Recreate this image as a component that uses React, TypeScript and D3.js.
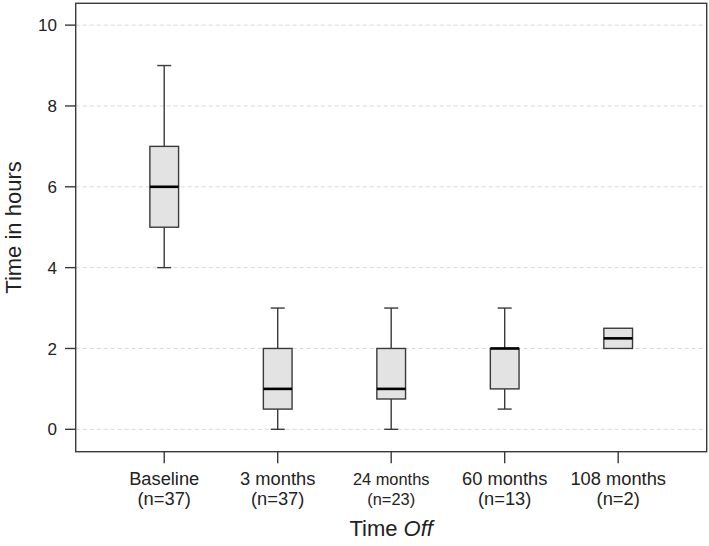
import React from 'react';
import * as d3 from "d3";

// Chart data
const groups = ["Baseline", "3 months", "24 months", "60 months", "108 months"];
const counts = ["(n=37)", "(n=37)", "(n=23)", "(n=13)", "(n=2)"];
const whiskerLow = [4, 0, 0, 0.5, 2];
const quartile1 = [5, 0.5, 0.75, 1, 2];
const medians = [6, 1, 1, 2, 2.25];
const quartile3 = [7, 2, 2, 2, 2.5];
const whiskerHigh = [9, 3, 3, 3, 2.5];
const yTicks = [0, 2, 4, 6, 8, 10];

const W = 709, H = 546;
const frame = { left: 75.7, right: 706.7, top: 3.3, bottom: 451.7 };
const font = "'Liberation Sans', Arial, sans-serif";

function App() {
    const x = d3.scalePoint<string>()
        .domain(groups)
        .range([frame.left, frame.right])
        .padding(0.78);
    const y = d3.scaleLinear()
        .domain([-0.554, 10.54])
        .range([frame.bottom, frame.top]);

    const boxW = 28.7;
    const capW = 14;
    const ink = "#3a3a3a";

    return (
        <svg width={W} height={H} style={{ position: "absolute", left: 0, top: 0, background: "#fff" }}>
            {/* grid lines */}
            {yTicks.map(t => (
                <line key={"g" + t} x1={frame.left} x2={frame.right} y1={y(t)} y2={y(t)}
                    stroke="#d9d9d9" strokeWidth={1} strokeDasharray="4,3" />
            ))}

            {/* boxes */}
            {groups.map((g, i) => {
                const cx = x(g)!;
                return (
                    <g key={g}>
                        {whiskerHigh[i] > quartile3[i] && (
                            <>
                                <line x1={cx} x2={cx} y1={y(quartile3[i])} y2={y(whiskerHigh[i])} stroke={ink} strokeWidth={1.4} />
                                <line x1={cx - capW / 2} x2={cx + capW / 2} y1={y(whiskerHigh[i])} y2={y(whiskerHigh[i])} stroke={ink} strokeWidth={1.4} />
                            </>
                        )}
                        {whiskerLow[i] < quartile1[i] && (
                            <>
                                <line x1={cx} x2={cx} y1={y(quartile1[i])} y2={y(whiskerLow[i])} stroke={ink} strokeWidth={1.4} />
                                <line x1={cx - capW / 2} x2={cx + capW / 2} y1={y(whiskerLow[i])} y2={y(whiskerLow[i])} stroke={ink} strokeWidth={1.4} />
                            </>
                        )}
                        <rect x={cx - boxW / 2} y={y(quartile3[i])} width={boxW}
                            height={y(quartile1[i]) - y(quartile3[i])}
                            fill="#e3e3e3" stroke={ink} strokeWidth={1.4} />
                        <line x1={cx - boxW / 2} x2={cx + boxW / 2} y1={y(medians[i])} y2={y(medians[i])}
                            stroke="#000" strokeWidth={2.6} />
                    </g>
                );
            })}

            {/* frame */}
            <rect x={frame.left} y={frame.top} width={frame.right - frame.left} height={frame.bottom - frame.top}
                fill="none" stroke={ink} strokeWidth={1.4} />

            {/* y axis */}
            {yTicks.map(t => (
                <g key={"y" + t}>
                    <line x1={65} x2={frame.left} y1={y(t)} y2={y(t)} stroke={ink} strokeWidth={1.4} />
                    <text x={57} y={y(t)} dy="0.36em" textAnchor="end" fontFamily={font} fontSize={17} fill="#222">{t}</text>
                </g>
            ))}
            <text transform={`translate(21,${(frame.top + frame.bottom) / 2}) rotate(-90)`} textAnchor="middle"
                fontFamily={font} fontSize={22} fill="#222">Time in hours</text>

            {/* x axis */}
            {groups.map((g, i) => (
                <g key={"x" + g}>
                    <line x1={x(g)} x2={x(g)} y1={frame.bottom} y2={463.3} stroke={ink} strokeWidth={1.4} />
                    <text x={x(g)} y={484.8} textAnchor="middle" fontFamily={font}
                        fontSize={g === "24 months" ? 16.4 : 18.3} fill="#222">{g}</text>
                    <text x={x(g)} y={505.3} textAnchor="middle" fontFamily={font}
                        fontSize={g === "24 months" ? 16.4 : 18.3} fill="#222">{counts[i]}</text>
                </g>
            ))}
            <text x={(frame.left + frame.right) / 2} y={536} textAnchor="middle" fontFamily={font} fontSize={22} fill="#222">
                Time <tspan fontStyle="italic">Off</tspan>
            </text>
        </svg>
    );
}

export default App;
